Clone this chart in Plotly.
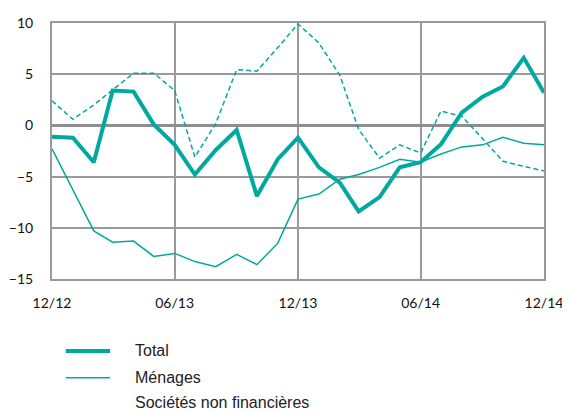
import plotly.graph_objects as go

# Monthly data, 12/2012 -> 12/2014
months = ["2012-12", "2013-01", "2013-02", "2013-03", "2013-04", "2013-05", "2013-06",
          "2013-07", "2013-08", "2013-09", "2013-10", "2013-11", "2013-12",
          "2014-01", "2014-02", "2014-03", "2014-04", "2014-05", "2014-06",
          "2014-07", "2014-08", "2014-09", "2014-10", "2014-11", "2014-12"]

total = [-1.1, -1.2, -3.6, 3.4, 3.3, 0.1, -1.9, -4.8, -2.4, -0.45, -6.9, -3.3, -1.2,
         -4.1, -5.6, -8.4, -7.0, -4.1, -3.6, -1.85, 1.25, 2.8, 3.8, 6.6, 3.2]
menages = [-2.3, -6.3, -10.3, -11.4, -11.3, -12.8, -12.5, -13.3, -13.8, -12.6, -13.6, -11.5, -7.2,
           -6.7, -5.25, -4.8, -4.1, -3.3, -3.6, -2.8, -2.1, -1.9, -1.15, -1.75, -1.9]
snf = [2.4, 0.6, 2.0, 3.5, 5.1, 5.1, 3.4, -3.1, 0.2, 5.45, 5.3, 7.6, 9.9,
       8.05, 4.9, -0.4, -3.2, -1.9, -2.7, 1.4, 0.9, -1.3, -3.5, -4.0, -4.45]

tick_vals = ["2012-12", "2013-06", "2013-12", "2014-06", "2014-12"]
tick_text = ["12/12", "06/13", "12/13", "06/14", "12/14"]
y_ticks = [-15, -10, -5, 0, 5, 10]

teal = "#00A9A0"
grid = "#9A9A9C"
font = "Lato, Liberation Sans, sans-serif"
legend_font = "Liberation Sans, Arial, sans-serif"

fig = go.Figure()
fig.add_trace(go.Scatter(x=months, y=snf, mode="lines", name="Sociétés non financières",
                         line=dict(color=teal, width=1.5, dash="5px,3px")))
fig.add_trace(go.Scatter(x=months, y=menages, mode="lines", name="Ménages",
                         line=dict(color=teal, width=1.5)))
fig.add_trace(go.Scatter(x=months, y=total, mode="lines", name="Total",
                         line=dict(color=teal, width=4)))

# page body has an 8px margin, so the figure is a bit smaller than the window
fig.update_layout(
    width=562, height=403,
    margin=dict(l=44, r=26, t=15, b=132),
    plot_bgcolor="white", paper_bgcolor="white",
    showlegend=False,
    font=dict(family=font, size=14, color="#111"),
)
fig.update_xaxes(type="date", range=["2012-12", "2014-12"],
                 tickvals=tick_vals, ticktext=tick_text,
                 showgrid=True, gridcolor=grid, gridwidth=2,
                 showline=True, linecolor=grid, linewidth=2, mirror=True,
                 ticks="", ticklabelstandoff=10, automargin=False)
fig.update_yaxes(range=[-15, 10], tickvals=y_ticks,
                 showgrid=True, gridcolor=grid, gridwidth=2,
                 zeroline=True, zerolinecolor="#8E8E90", zerolinewidth=3,
                 showline=True, linecolor=grid, linewidth=2, mirror=True,
                 ticks="", ticklabelstandoff=14, automargin=False)

# legend drawn below the chart
legend_rows = [("Total", 4), ("Ménages", 1.5), ("Sociétés non financières", None)]
row_y = [-0.281, -0.386, -0.484]
for (label, w), y in zip(legend_rows, row_y):
    if w:
        fig.add_shape(type="line", xref="paper", yref="paper",
                      x0=0.028, x1=0.118, y0=y, y1=y,
                      line=dict(color=teal, width=w))
    fig.add_annotation(text=label, xref="paper", yref="paper", x=0.165, y=y,
                       xanchor="left", yanchor="middle", showarrow=False,
                       font=dict(family=legend_font, size=16, color="#222"))

fig.write_html("out.html")
